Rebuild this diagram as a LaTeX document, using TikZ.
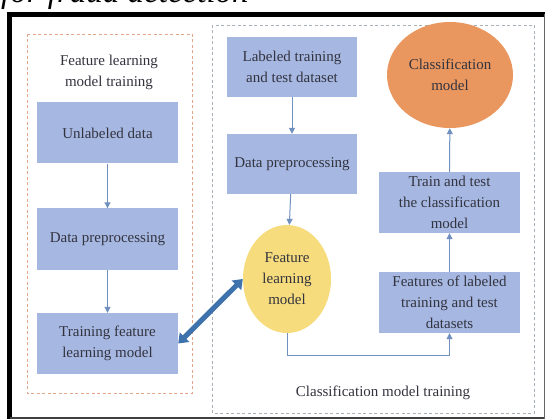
\documentclass[tikz,border=0pt]{standalone}
\usepackage{fontspec}
\setmainfont{Liberation Serif}
\usetikzlibrary{arrows.meta,shapes.geometric}
\definecolor{boxblue}{HTML}{A6B8E2}
\definecolor{txt}{HTML}{33333F}
\definecolor{arr}{HTML}{7090C0}
\definecolor{yel}{HTML}{F6DC7C}
\definecolor{ora}{HTML}{E9975E}
\definecolor{dashor}{HTML}{E3A58A}
\definecolor{dashgr}{HTML}{A9B0B8}
\definecolor{bigarr}{HTML}{3D72AC}
\begin{document}
\begin{tikzpicture}[x=1pt,y=-1pt,
  lbl/.style={text=txt, align=center, inner sep=0pt, font=\fontsize{15}{21}\selectfont},
  box/.style={lbl, fill=boxblue, minimum width=141pt, minimum height=61pt},
  sbox/.style={box, minimum width=130pt, minimum height=60pt},
  ell/.style={lbl, ellipse, inner sep=0pt},
  conn/.style={arr, line width=1pt, -{Triangle[width=6pt,length=6pt]}},
  frame/.style={dashed, dash pattern=on 3pt off 2.5pt, line width=0.9pt}
]
\clip (0,0) rectangle (545,419);
\fill[white] (0,0) rectangle (545,419);
% clipped caption above the frame
\node[anchor=base west, inner sep=0pt, font=\fontsize{33}{33}\selectfont\itshape] (cap) at (1,2.5) {for fraud detection};
% outer frame
\draw[line width=5pt] (9.5,419) -- (9.5,14.5) -- (548,14.5);
\draw[line width=2pt, black!75] (9.5,418) -- (548,418);
\draw[line width=1pt, black!60] (544.5,14.5) -- (544.5,419);
% dashed group frames
\draw[frame, dashor] (27,34) rectangle (192,393);
\draw[frame, dashgr] (212,25) rectangle (534,413);
% left group
\node[lbl] (ttl) at (109,72) {Feature learning\\model training};
\node[box] (u1) at (107.5,133) {Unlabeled data};
\node[box] (u2) at (107.5,239) {Data preprocessing};
\node[box] (u3) at (107.5,343.5) {Training feature\\learning model};
% right group
\node[sbox] (r1) at (292,67) {Labeled training\\and test dataset};
\node[sbox] (r2) at (292,164) {Data preprocessing};
\node[ell, fill=yel, minimum width=88pt, minimum height=108pt] (fl) at (287,279) {Feature\\learning\\model};
\node[box] (f1) at (449.5,302.5) {Features of labeled\\training and test\\datasets};
\node[box] (t1) at (449.5,202.5) {Train and test\\the classification\\model};
\node[ell, fill=ora, minimum width=126pt, minimum height=106pt] (cm) at (450,75) {Classification\\model};
\node[lbl] (cmt) at (383,393) {Classification model training};
% connectors
\draw[conn] (u1) -- (u2);
\draw[conn] (u2) -- (u3);
\draw[conn] (r1) -- (r2);
\draw[conn] (r2) -- (fl);
\draw[conn] (fl.south) -- ++(0,22) -| (f1.south);
\draw[conn] (f1) -- (t1);
\draw[conn] (t1) -- (cm);
\draw[bigarr, line width=5pt, {Triangle[width=13pt,length=9pt]}-{Triangle[width=13pt,length=9pt]}] (u3.east) -- (fl.west);
\end{tikzpicture}
\end{document}
